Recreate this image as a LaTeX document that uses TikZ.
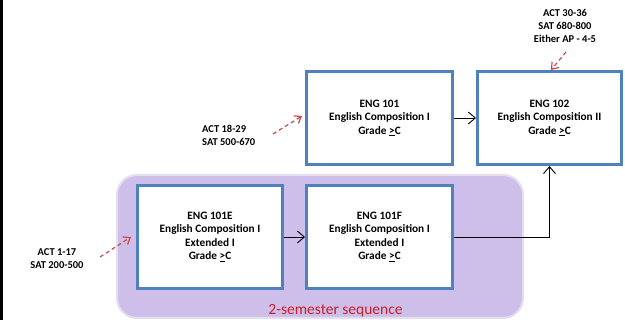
\documentclass[tikz,border=0pt]{standalone}
\usepackage{fontspec}
\setmainfont{Carlito}
\usetikzlibrary{arrows.meta}
\definecolor{boxblue}{RGB}{79,129,189}
\definecolor{lav}{RGB}{205,191,234}
\definecolor{lavedge}{RGB}{228,222,238}
\definecolor{redarr}{RGB}{200,75,75}
\definecolor{seqred}{RGB}{200,30,40}
\begin{document}
\begin{tikzpicture}[x=1pt,y=-1pt,
  course/.style={draw=boxblue,line width=3pt,fill=white,align=center,
    minimum width=146pt,minimum height=93pt,inner sep=0pt,
    font=\fontsize{11.3}{13.5}\selectfont\bfseries},
  lbl/.style={inner sep=0pt,font=\fontsize{10.5}{13}\selectfont\bfseries},
  flow/.style={line width=0.9pt,-{Straight Barb[length=7pt,width=12pt,line width=0.9pt]}},
  entry/.style={redarr,line width=1.2pt,dash pattern=on 4pt off 3pt,
    -{Straight Barb[length=6pt,width=9pt,line width=1.2pt]}}]
\useasboundingbox (0,0) rectangle (625,320);
\fill[white] (0,0) rectangle (625,320);
\fill[black] (0,0) rectangle (3,320);
\path[fill=lav,draw=lavedge,line width=2pt,rounded corners=20pt] (117,175) rectangle (523,318);
\node[text=seqred,font=\fontsize{15.5}{18}\selectfont,anchor=base] (seq) at (335.5,315) {2-semester sequence};

\node[course] (e101) at (379.5,118) {ENG 101\\English Composition I\\Grade \underline{>}C};
\node[course,minimum width=144pt] (e102) at (549.5,118) {ENG 102\\English Composition II\\Grade \underline{>}C};
\node[course,minimum width=145pt,minimum height=103pt] (e101e) at (210,237) {ENG 101E\\English Composition I\\Extended I\\Grade \underline{>}C};
\node[course,minimum height=103pt] (e101f) at (379.5,237) {ENG 101F\\English Composition I\\Extended I\\Grade \underline{>}C};

\draw[flow] (e101) -- (e102);
\draw[flow] (e101e) -- (e101f);
\draw[flow] (e101f.east) -| (e102.south);

\node[lbl,align=left,anchor=north west] (l1) at (202,125) {ACT 18-29\\SAT 500-670};
\node[lbl,align=center] (l2) at (57,258.5) {ACT 1-17\\SAT 200-500};
\node[lbl,align=center] (l3) at (565,25.5) {ACT 30-36\\SAT 680-800\\Either AP - 4-5};

\coordinate (s1) at (273,134);
\coordinate (t1) at (302,116);
\coordinate (s2) at (100,257);
\coordinate (t2) at (131,237);
\coordinate (s3) at (566,52);
\coordinate (t3) at (551,70);
\draw[entry] (s1) -- (t1);
\draw[entry] (s2) -- (t2);
\draw[entry] (s3) -- (t3);
\end{tikzpicture}
\end{document}
